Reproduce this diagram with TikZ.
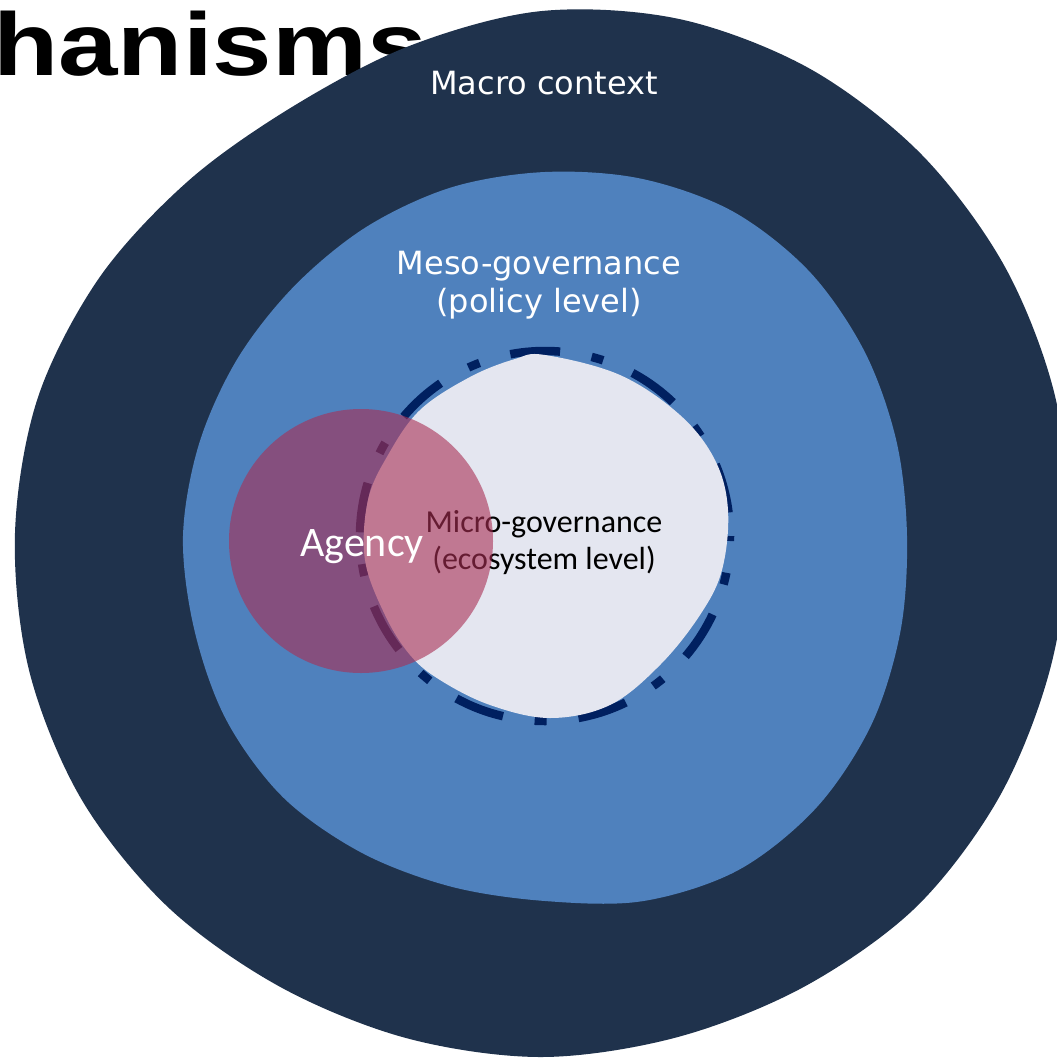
\documentclass[tikz,border=0pt]{standalone}
\usepackage{fontspec}
\newfontfamily\headfont{Liberation Sans}
\newfontfamily\dvfont{DejaVu Sans}
\newfontfamily\cbfont{Carlito}
\definecolor{macrocol}{RGB}{31,50,76}
\definecolor{mesocol}{RGB}{79,129,189}
\definecolor{microcol}{RGB}{228,230,240}
\definecolor{dashcol}{RGB}{0,32,96}
\definecolor{agencycol}{RGB}{169,47,84}
\tikzset{
  whitelabel/.style={inner sep=0pt, text=white, font=\dvfont\fontsize{32}{38}\selectfont, anchor=base},
  microlabel/.style={inner sep=0pt, text=black, font=\cbfont\fontsize{32}{37}\selectfont, anchor=base},
  ringline/.style={draw=dashcol, line width=8.5pt, dash pattern=on 50pt off 32pt on 12pt off 32pt, dash phase=45pt}
}
\begin{document}
\begin{tikzpicture}[x=1pt,y=-1pt]
\clip (0,0) rectangle (1057,1060);
\fill[white] (0,0) rectangle (1057,1060);
% headline fragment
\node[anchor=base west, inner sep=0pt, font=\headfont\bfseries\fontsize{89}{89}\selectfont] (head) at (-7,75) {\scalebox{1.2}[1]{hanisms}};
% macro blob
\fill[macrocol, shift={(542,533)}] plot[smooth cycle, tension=0.55] coordinates {
 (0:527) (15:526) (30:528) (45:529) (60:524) (75:522) (90:524) (105:523)
 (120:524) (135:529) (150:532) (165:531) (180:527) (195:522) (210:511) (225:499)
 (240:494) (255:505) (270:522) (285:532) (300:536) (315:536) (330:534) (345:531)};
\node[whitelabel] (macro) at (544,94) {Macro context};
% meso blob
\fill[mesocol, shift={(545,536)}] plot[smooth cycle, tension=0.55] coordinates {
 (0:362) (15:368) (30:377) (45:384) (60:386) (75:378) (90:365) (105:363)
 (120:366) (135:370) (150:368) (165:363) (180:362) (195:358) (210:355) (225:354)
 (240:357) (255:361) (270:364) (285:370) (300:375) (315:374) (330:369) (345:364)};
\node[whitelabel] (meso1) at (539,274) {Meso-governance};
\node[whitelabel] (meso2) at (539,312) {(policy level)};
% dashed ring
\draw[ringline] (545,536) circle[radius=185];
% micro blob
\fill[microcol] plot[smooth cycle, tension=0.6] coordinates {
 (545,355) (620,375) (680,415) (715,460) (728,510) (722,570) (700,615) (660,665)
 (610,705) (550,718) (490,705) (440,680) (410,655) (385,615) (365,560) (368,500)
 (388,455) (420,410) (470,377) (515,359)};
\node[microlabel] (micro1) at (544,532) {Micro-governance};
\node[microlabel] (micro2) at (544,569) {(ecosystem level)};
% agency circle
\fill[agencycol, opacity=0.6] (361,541) circle[radius=132];
\node[inner sep=0pt, text=white, font=\cbfont\fontsize{42}{42}\selectfont, anchor=base] (agency) at (362,556) {Agency};
\end{tikzpicture}
\end{document}
